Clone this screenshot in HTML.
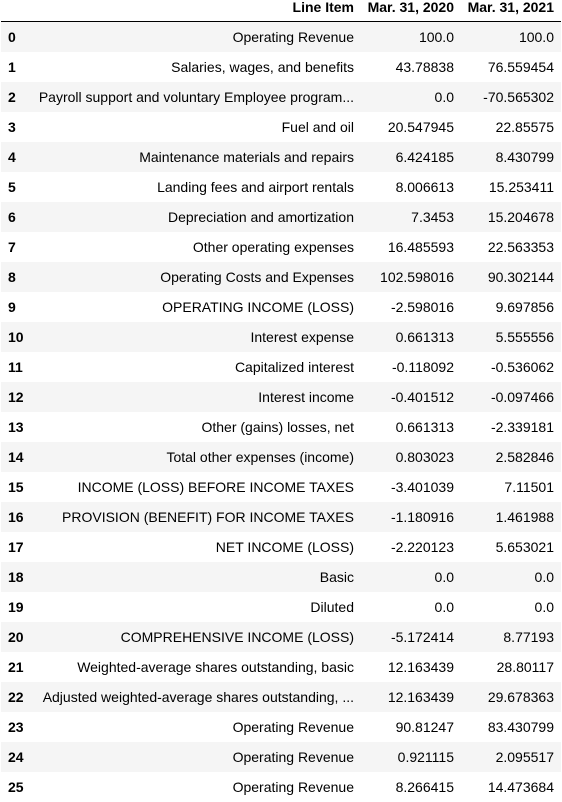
<!DOCTYPE html>
<html><head><meta charset="utf-8"><style>
body{margin:0;width:562px;height:796px;background:#fff;font-family:"Liberation Sans",Arial,sans-serif;font-size:14px;color:#000;overflow:hidden;position:relative}
.r{position:absolute;left:1px;width:560px;height:30px;line-height:30px}
.r.s{background:#f5f5f5}
.c{position:absolute;top:0;white-space:nowrap;text-align:right}
.i{left:7px;font-weight:bold;text-align:left}
.a{right:207px}.b{right:107px}.d{right:7px}
.h{position:absolute;top:0;left:1px;width:560px;height:21px;line-height:15px;font-weight:bold;border-bottom:1px solid #000}
</style></head><body>
<div class="h">
<span class="c a" style="top:0">Line Item</span>
<span class="c b" style="top:0">Mar. 31, 2020</span>
<span class="c d" style="top:0">Mar. 31, 2021</span>
</div>
<div id="t"></div>
<script>
const items=["Operating Revenue","Salaries, wages, and benefits","Payroll support and voluntary Employee program...","Fuel and oil","Maintenance materials and repairs","Landing fees and airport rentals","Depreciation and amortization","Other operating expenses","Operating Costs and Expenses","OPERATING INCOME (LOSS)","Interest expense","Capitalized interest","Interest income","Other (gains) losses, net","Total other expenses (income)","INCOME (LOSS) BEFORE INCOME TAXES","PROVISION (BENEFIT) FOR INCOME TAXES","NET INCOME (LOSS)","Basic","Diluted","COMPREHENSIVE INCOME (LOSS)","Weighted-average shares outstanding, basic","Adjusted weighted-average shares outstanding, ...","Operating Revenue","Operating Revenue","Operating Revenue"];
const v2020=["100.0","43.78838","0.0","20.547945","6.424185","8.006613","7.3453","16.485593","102.598016","-2.598016","0.661313","-0.118092","-0.401512","0.661313","0.803023","-3.401039","-1.180916","-2.220123","0.0","0.0","-5.172414","12.163439","12.163439","90.81247","0.921115","8.266415"];
const v2021=["100.0","76.559454","-70.565302","22.85575","8.430799","15.253411","15.204678","22.563353","90.302144","9.697856","5.555556","-0.536062","-0.097466","-2.339181","2.582846","7.11501","1.461988","5.653021","0.0","0.0","8.77193","28.80117","29.678363","83.430799","2.095517","14.473684"];
const t=document.getElementById('t');
items.forEach((it,k)=>{
const r=document.createElement('div');
r.className='r'+(k%2==0?' s':'');
r.style.top=(22+30*k)+'px';


r.innerHTML='<span class="c i">'+k+'</span><span class="c a">'+it+'</span><span class="c b">'+v2020[k]+'</span><span class="c d">'+v2021[k]+'</span>';
t.appendChild(r);
});
</script>
</body></html>
